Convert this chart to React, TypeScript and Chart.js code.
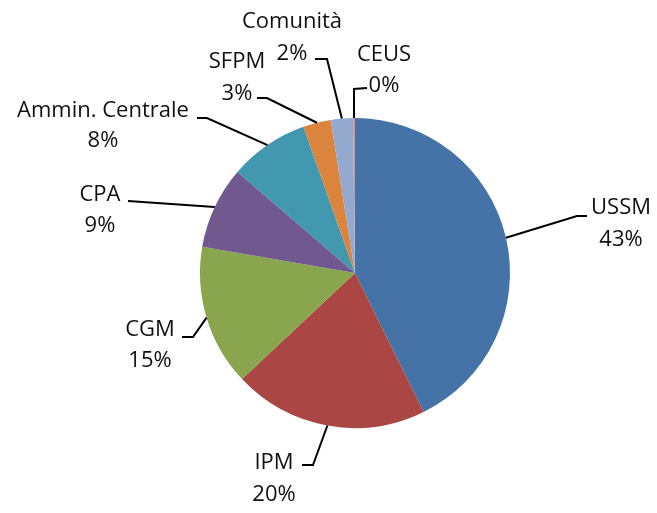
import React, { useEffect, useRef } from "react";
import { Chart, registerables } from "chart.js";

Chart.register(...registerables);

const categories = ["USSM", "IPM", "CGM", "CPA", "Ammin. Centrale", "SFPM", "Comunità", "CEUS"];
const shares = [42.7, 20.3, 14.7, 8.6, 8.3, 2.9, 2.3, 0.2];
const colors = ["#4572A7", "#AA4643", "#89A54E", "#71588F", "#4198AF", "#DB843D", "#93A9CF", "#D19392"];

// label layout relative to pie centre (px): elbow, stub end, text centre x, first line y, second line y
const labelLayout = [
  { elbow: [222, -57], end: [232, -57], tx: 266, ty1: -65, ty2: -33 },
  { elbow: [-42, 192], end: [-53, 192], tx: -81, ty1: 190, ty2: 222 },
  { elbow: [-162, 64], end: [-173, 64], tx: -205, ty1: 57, ty2: 88 },
  { elbow: null, end: [-227, -72], tx: -255, ty1: -78, ty2: -47 },
  { elbow: [-148, -155], end: [-158, -155], tx: -252, ty1: -162, ty2: -132 },
  { elbow: [-88, -175], end: [-98, -175], tx: -118, ty1: -211, ty2: -179 },
  { elbow: [-28, -214], end: [-40, -214], tx: -63, ty1: -251, ty2: -219 },
  { elbow: [-1, -184], end: [12, -185], tx: 29, ty1: -218, ty2: -187 },
];

const FONT = '22px "Open Sans"';

const labelPlugin = {
  id: "pieLabels",
  afterDraw(chart: any) {
    const ctx = chart.ctx;
    const meta = chart.getDatasetMeta(0);
    const data = chart.data.datasets[0].data as number[];
    const total = data.reduce((a, b) => a + b, 0);
    ctx.save();
    meta.data.forEach((arc: any, i: number) => {
      const { x, y, outerRadius, startAngle, endAngle } = arc.getProps(
        ["x", "y", "outerRadius", "startAngle", "endAngle"],
        true
      );
      const mid = (startAngle + endAngle) / 2;
      const sx = x + Math.cos(mid) * outerRadius;
      const sy = y + Math.sin(mid) * outerRadius;
      const L = labelLayout[i];
      ctx.strokeStyle = "#000";
      ctx.lineWidth = 2;
      ctx.beginPath();
      ctx.moveTo(sx, sy);
      if (L.elbow) ctx.lineTo(x + L.elbow[0], y + L.elbow[1]);
      ctx.lineTo(x + L.end[0], y + L.end[1]);
      ctx.stroke();
      ctx.fillStyle = "#111";
      ctx.font = FONT;
      ctx.textAlign = "center";
      ctx.textBaseline = "middle";
      ctx.fillText(categories[i], x + L.tx, y + L.ty1);
      ctx.fillText(Math.round((data[i] / total) * 100) + "%", x + L.tx, y + L.ty2);
    });
    ctx.restore();
  },
};

export default function App() {
  const ref = useRef<HTMLCanvasElement>(null);
  useEffect(() => {
    if (!ref.current) return;
    const chart = new Chart(ref.current, {
      type: "pie",
      data: {
        labels: categories,
        datasets: [
          {
            data: shares,
            backgroundColor: colors,
            borderWidth: 0,
          },
        ],
      },
      options: {
        animation: false,
        responsive: false,
        devicePixelRatio: 1,
        layout: { padding: { left: 200, right: 147, top: 118, bottom: 85 } },
        plugins: { legend: { display: false }, tooltip: { enabled: false } },
      },
      plugins: [labelPlugin],
    });
    return () => chart.destroy();
  }, []);
  return (
    <div style={{ position: "absolute", left: 0, top: 0, width: 657, height: 513, background: "#fff" }}>
      <canvas ref={ref} width={657} height={513} />
    </div>
  );
}
